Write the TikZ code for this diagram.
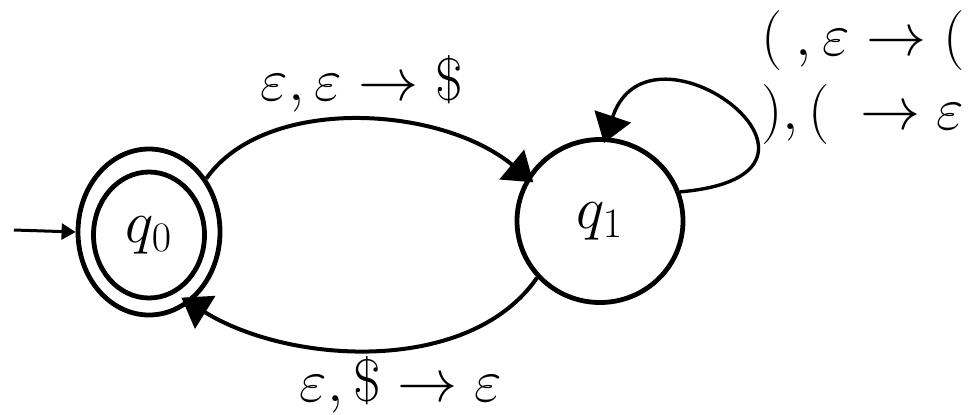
\RequirePackage{fix-cm}
\documentclass[tikz,border=0pt]{standalone}
\usetikzlibrary{arrows.meta,shapes.geometric}
\begin{document}
\begin{tikzpicture}[x=0.5pt,y=-0.5pt,
  every node/.style={font=\fontsize{30}{36}\selectfont},
  state/.style={draw,ellipse,line width=2.4pt,inner sep=0pt},
  edgeline/.style={line width=2pt,-{Triangle[length=14pt,width=19pt]}},
  loopline/.style={line width=1.7pt,-{Triangle[length=14pt,width=19pt]}},
  initline/.style={line width=1.5pt,-{Triangle[length=7pt,width=8pt]}},
  lbl/.style={inner sep=0pt}]
\useasboundingbox (0,0) rectangle (979,414);
\node[state,minimum width=71pt,minimum height=83pt] (q0) at (149,232) {};
\node[state,minimum width=55.5pt,minimum height=63pt] (q0in) at (149,235) {$q_0$};
\node[state,minimum width=83pt,minimum height=81.5pt] (q1) at (600,221) {$q_1$};
\coordinate (start) at (14,230);
\draw[initline] (start) -- (q0.west);
\draw[edgeline,shorten >=-4pt] (q0.43) .. controls (265,95) and (440,105) .. (q1.149);
\draw[edgeline,shorten >=-5pt] (q1.222) .. controls (470,375) and (290,365) .. (q0.300);
\draw[loopline,shorten >=-3pt] (q1.20) .. controls (875,175) and (650,5) .. (q1.86);
\node[lbl,anchor=base] (l1) at (362,100) {$\varepsilon,\varepsilon\rightarrow\$$};
\node[lbl,anchor=base] (l2) at (401,401) {$\varepsilon,\$\rightarrow\varepsilon$};
\node[lbl,anchor=base west] (l3) at (761,55) {$(\:,\varepsilon\rightarrow($};
\node[lbl,anchor=base west] (l4) at (761,129) {$),(\:\;\rightarrow\varepsilon$};
\end{tikzpicture}
\end{document}
